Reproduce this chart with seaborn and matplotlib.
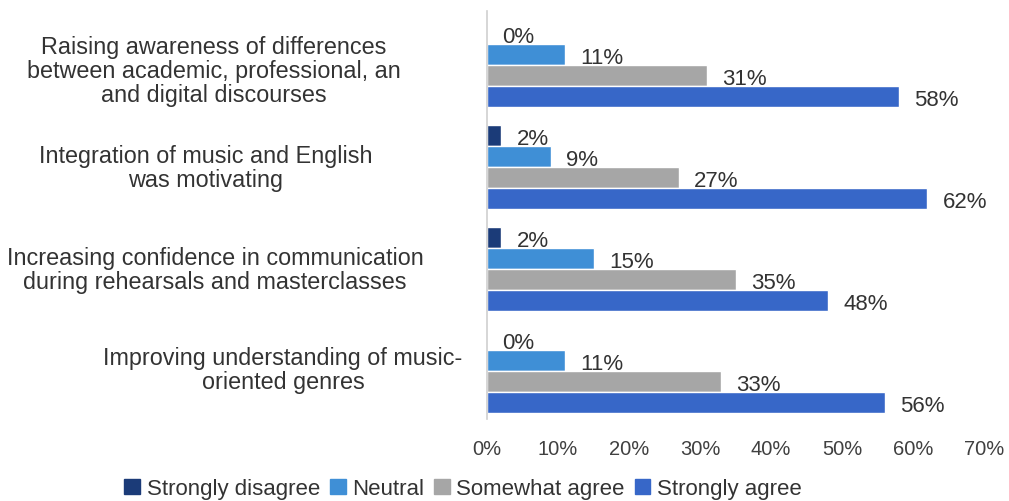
import pandas as pd
import numpy as np
import matplotlib.pyplot as plt
import matplotlib.transforms as mtransforms
import seaborn as sns

# Data
statements = [
    "Raising awareness of differences\nbetween academic, professional, an\nand digital discourses",
    "Integration of music and English\nwas motivating",
    "Increasing confidence in communication\nduring rehearsals and masterclasses",
    "Improving understanding of music-\noriented genres",
]
responses = ["Strongly disagree", "Neutral", "Somewhat agree", "Strongly agree"]
strongly_disagree = [0, 2, 2, 0]
neutral = [11, 9, 15, 11]
somewhat_agree = [31, 27, 35, 33]
strongly_agree = [58, 62, 48, 56]

colors = ["#1b3b78", "#3f8fd6", "#a6a6a6", "#3767c8"]

rows = []
for resp, vals in zip(responses, [strongly_disagree, neutral, somewhat_agree, strongly_agree]):
    for s, v in zip(statements, vals):
        rows.append({"Statement": s, "Response": resp, "Percent": v})
df = pd.DataFrame(rows)

sns.set_style("white")
plt.rcParams['font.family'] = ['Liberation Sans', 'DejaVu Sans']

fig = plt.figure(figsize=(10.09, 5.02), dpi=100)
ax = fig.add_axes([0.4827, 0.163, 0.4925, 0.813])

sns.barplot(data=df, y="Statement", x="Percent", hue="Response",
            hue_order=responses, order=statements, palette=colors,
            orient="h", width=0.82, saturation=1, ax=ax, legend=False)

# value labels
for cont in ax.containers:
    for bar in cont:
        w = bar.get_width()
        yc = bar.get_y() + bar.get_height() / 2
        ax.annotate(f"{w:.0f}%", (w, yc), xytext=(11, -2), textcoords="offset points",
                    ha="left", va="center", fontsize=16, color="#333333")

ax.set_xlim(0, 70)
ax.set_ylim(3.47, -0.53)
ax.set_xticks(range(0, 71, 10))
ax.set_xticklabels([f"{t}%" for t in range(0, 71, 10)], fontsize=14.5, color="#404040")
ax.tick_params(axis="x", length=0, pad=14)
ax.set_yticks([])
ax.set_xlabel("")
ax.set_ylabel("")
for side in ["top", "right", "bottom"]:
    ax.spines[side].set_visible(False)
ax.spines["left"].set_color("#cfcfcf")
ax.spines["left"].set_linewidth(1.2)

# category labels, each centered in its own column position
label_x = [214, 206, 215, 283]
label_dy = [0.05, 0.0, 0.0, -0.02]
trans = mtransforms.blended_transform_factory(fig.transFigure, ax.transData)
for i, (s, lx, dy) in enumerate(zip(statements, label_x, label_dy)):
    ax.text(lx / 1009, i + dy, s, transform=trans, ha="center", va="center",
            multialignment="center", fontsize=16.8, color="#333333", linespacing=1.06)

handles = [plt.Rectangle((0, 0), 1, 1, color=c) for c in colors]
fig.legend(handles, responses, loc="center", bbox_to_anchor=(0.459, 0.024), ncol=4,
           frameon=False, fontsize=16, handlelength=0.7, handleheight=0.7,
           handletextpad=0.3, columnspacing=0.45, labelcolor="#333333")

fig.savefig("out.png", dpi=100)
plt.close()
